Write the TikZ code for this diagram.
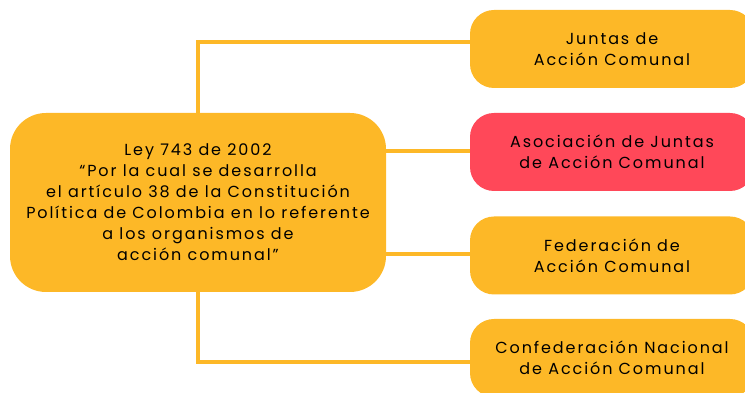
\documentclass[tikz,border=0pt]{standalone}
\usepackage{fontspec}
\setmainfont[LetterSpace=12, Ligatures=NoCommon]{Poppins}
\usepackage{tikz}
\usetikzlibrary{positioning, calc}

\definecolor{amarillo}{HTML}{FDB827}
\definecolor{rojo}{HTML}{FF4859}

\tikzset{
    caja/.style={fill=amarillo, rounded corners=24pt, minimum width=284pt, minimum height=78pt, align=center, inner sep=0pt},
    conector/.style={draw=amarillo, line width=4pt},
}

\begin{document}
\begin{tikzpicture}[x=1pt, y=1pt, font=\fontsize{16}{21}\selectfont]
            \useasboundingbox (0,0) rectangle (745,393);
            \node[caja, rounded corners=36pt, minimum width=376pt, minimum height=179pt] (ley) at (198,190.5) {Ley 743 de 2002\\``Por la cual se desarrolla\\el artículo 38 de la Constitución\\Política de Colombia en lo referente\\a los organismos de\\acción comunal''};
            \node[caja] (juntas) at (612,344) {Juntas de\\Acción Comunal};
            \node[caja, fill=rojo] (asociacion) at (612,241) {Asociación de Juntas\\de Acción Comunal};
            \node[caja] (federacion) at (612,137.5) {Federación de\\Acción Comunal};
            \node[caja] (confederacion) at (612,35) {Confederación Nacional\\de Acción Comunal};
            % conectores
            \draw[conector] (ley.north) |- ([yshift=7pt]juntas.west);
            \draw[conector] ([yshift=1pt]asociacion.west -| ley.east) -- ([yshift=1pt]asociacion.west);
            \draw[conector] ([yshift=1.5pt]federacion.west -| ley.east) -- ([yshift=1.5pt]federacion.west);
            \draw[conector] (ley.south) |- ([yshift=-4pt]confederacion.west);
        \end{tikzpicture}
\end{document}
